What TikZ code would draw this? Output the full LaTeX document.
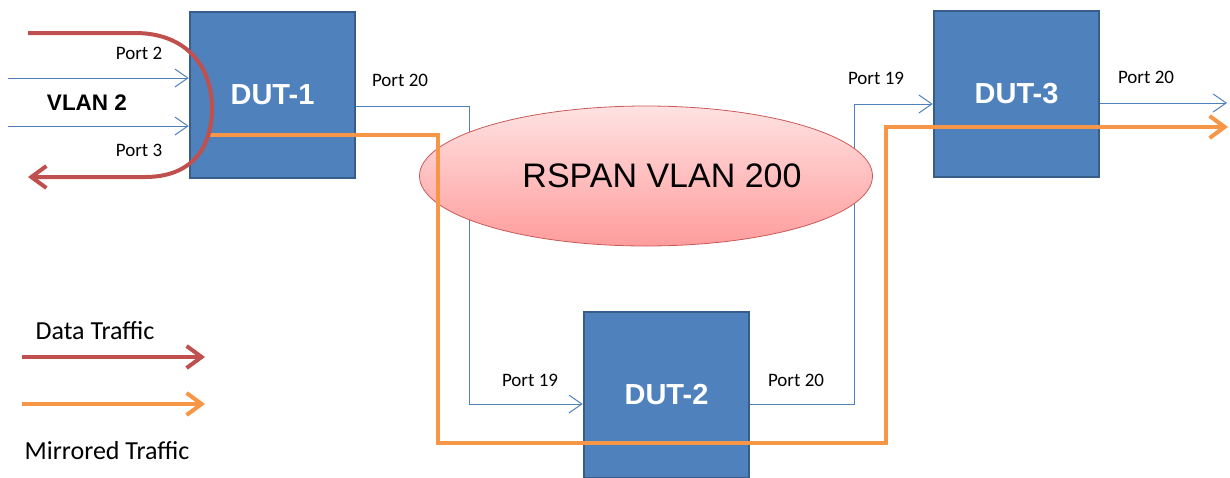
\documentclass[tikz,border=0pt]{standalone}
\usepackage{fontspec}
\setmainfont{Carlito}
\newfontfamily\arialf{Liberation Sans}
\usetikzlibrary{arrows.meta,shapes.geometric}
\definecolor{boxfill}{HTML}{4F81BD}
\definecolor{boxdraw}{HTML}{385D8A}
\definecolor{redtr}{HTML}{C0504D}
\definecolor{orangetr}{HTML}{F79646}
\definecolor{bluel}{HTML}{4F81BD}
\definecolor{elltop}{HTML}{FFE2E2}
\definecolor{ellbot}{HTML}{FF9C9C}
\definecolor{elldraw}{HTML}{C85A58}
\pgfdeclarelayer{bg}
\pgfsetlayers{bg,main}
\begin{document}
\begin{tikzpicture}[x=1pt,y=-1pt,
 dut/.style={draw=boxdraw, line width=2.5pt, fill=boxfill, minimum width=165pt, minimum height=166pt, inner sep=0pt, text=white, font=\arialf\bfseries\fontsize{29}{32}\selectfont},
 port/.style={font=\fontsize{19}{22}\selectfont, inner sep=0pt},
 legend/.style={font=\fontsize{26}{30}\selectfont, inner sep=0pt},
 bline/.style={draw=bluel, line width=1pt},
 barrow/.style={bline, -{Straight Barb[length=13pt,width=18pt]}},
 redl/.style={draw=redtr, line width=4pt},
 orl/.style={draw=orangetr, line width=4pt},
 bigarrow/.style={-{Straight Barb[length=15pt,width=22pt]}}
]
\clip (0,0) rectangle (1230,477);

% ellipse
\node[ellipse, minimum width=453pt, minimum height=140pt, draw=elldraw, line width=0.8pt,
  top color=elltop, bottom color=ellbot, inner sep=0pt] (rspan) at (646,176) {};
\node[font=\arialf\fontsize{34}{38}\selectfont, inner sep=0pt] (rspantext) at (662,176) {RSPAN VLAN 200};

% boxes
\node[dut] (dut1) at (272.5,95) {DUT-1};
\node[dut] (dut2) at (666.5,395) {DUT-2};
\node[dut] (dut3) at (1016.5,94) {DUT-3};

% coordinates
\coordinate (in1) at (8,78);
\coordinate (in2) at (8,126);
\coordinate (j1) at (469,106);
\coordinate (j2) at (469,404);
\coordinate (j3) at (854,404);
\coordinate (j4) at (854,104);
\coordinate (o3) at (1227,103);

% blue port links
\begin{pgfonlayer}{bg}
\draw[barrow] (in1) -- (dut1.west |- in1);
\draw[barrow] (in2) -- (dut1.west |- in2);
\draw[barrow] (dut1.east |- j1) -- (j1) -- (j2) -- (dut2.west |- j2);
\draw[barrow] (dut2.east |- j3) -- (j3) -- (j4) -- (dut3.west |- j4);
\draw[barrow] (dut3.east |- o3) -- (o3);
\end{pgfonlayer}

% port labels
\node[port] (p2) at (139,53) {Port 2};
\node[port] (p3) at (139,150) {Port 3};
\node[font=\arialf\bfseries\fontsize{22.5}{26}\selectfont, inner sep=0pt] (vlan2) at (87,103) {VLAN 2};
\node[port] (p20a) at (400,80) {Port 20};
\node[port] (p19b) at (530,380) {Port 19};
\node[port] (p20b) at (796,380) {Port 20};
\node[port] (p19c) at (876,78) {Port 19};
\node[port] (p20c) at (1146,77) {Port 20};

% mirrored traffic
\coordinate (m0) at (208,135);
\coordinate (m1) at (438,135);
\coordinate (m2) at (438,443);
\coordinate (m3) at (886,443);
\coordinate (m4) at (886,127);
\coordinate (m5) at (1228,127);
\draw[orl, bigarrow] (m0) -- (m1) -- (m2) -- (m3) -- (m4) -- (m5);

% data traffic
\coordinate (r0) at (28,33);
\coordinate (r1) at (135,33);
\coordinate (r2) at (212,108);
\coordinate (r3) at (145,177);
\coordinate (r4) at (28,177);
\draw[redl, bigarrow] (r0) -- (r1) .. controls (185,33) and (212,65) .. (r2) .. controls (212,150) and (190,177) .. (r3) -- (r4);

% legend
\node[legend] (ldata) at (95,331) {Data Traffic};
\coordinate (la0) at (22,357);
\coordinate (la1) at (205,357);
\draw[redl, bigarrow] (la0) -- (la1);
\coordinate (lb0) at (22,404);
\coordinate (lb1) at (205,404);
\draw[orl, bigarrow] (lb0) -- (lb1);
\node[legend] (lmir) at (107,451) {Mirrored Traffic};
\end{tikzpicture}
\end{document}
